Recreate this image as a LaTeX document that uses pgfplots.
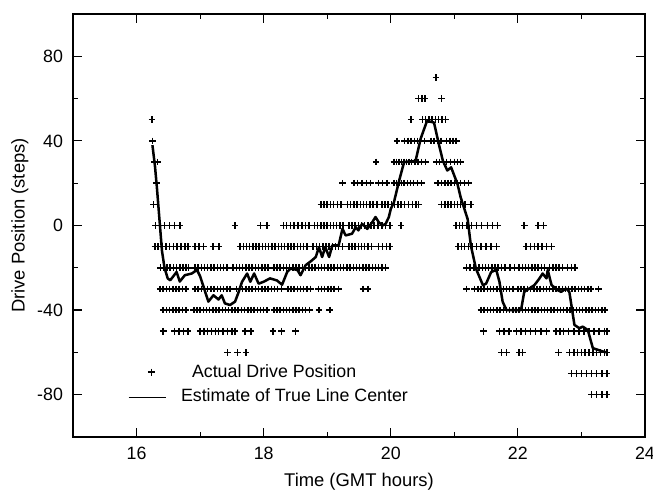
\documentclass[border=0pt]{standalone}
\usepackage{fontspec}
\setmainfont{Liberation Sans}
\usepackage{pgfplots}
\pgfplotsset{compat=1.18}
\begin{document}
\begin{tikzpicture}
\useasboundingbox (-36.5pt,-26.5pt) rectangle (290pt,218.5pt);
\begin{axis}[
  scale only axis, width=286pt, height=211.5pt,
  at={(0,0)}, anchor=south west,
  xmin=15, xmax=24, ymin=-100, ymax=100,
  xtick={16,18,20,22,24}, ytick={-80,-40,0,40,80},
  minor x tick num=1, minor y tick num=1,
  tick align=inside, major tick length=4.5pt, minor tick length=2.3pt,
  axis line style={line width=0.8pt},
  every tick/.style={line width=0.6pt, black},
  /pgf/number format/assume math mode=true,
  tick label style={font=\fontsize{8.9}{10.5}\selectfont},
  yticklabel style={xshift=-1.5pt},
  xticklabel style={yshift=-1.5pt},
  label style={font=\fontsize{9.2}{11}\selectfont},
  xlabel={Time (GMT hours)}, ylabel={Drive Position (steps)},
  xlabel style={at={(axis description cs:0.5,-0.1065)}, anchor=center},
  ylabel style={at={(axis description cs:-0.0927,0.5)}, anchor=center},
  legend style={draw=none, fill=none, at={(rel axis cs:0.085,0.192)}, anchor=north west,
    font=\fontsize{8.9}{10.5}\selectfont, row sep=0.5pt},
  legend cell align=left,
  pts/.style={only marks, mark=+, mark size=1.65pt, mark options={line width=0.75pt}, black, forget plot},
]
\addlegendimage{only marks, mark=+, mark size=1.7pt, mark options={line width=0.75pt}, black}
\addlegendentry{\hspace{11pt}Actual Drive Position}
\addlegendimage{black, line width=0.5pt, legend image code/.code={\draw[black, line width=0.5pt] (-0.1cm,0cm) -- (0.55cm,0cm);}}
\addlegendentry{\hspace{5.5pt}Estimate of True Line Center}

% row 70
\addplot[pts] coordinates {(20.71,70)};
% row 60
\addplot[pts] coordinates {(20.44,60) (20.49,60) (20.54,60) (20.80,60)};
% row 50
\addplot[pts] coordinates {(16.24,50) (20.32,50) (20.50,50) (20.55,50) (20.60,50) (20.65,50) (20.70,50) (20.75,50) (20.81,50) (20.86,50)};
% row 40
\addplot[pts] coordinates {(16.25,40) (20.10,40) (20.22,40) (20.27,40) (20.32,40) (20.37,40) (20.42,40) (20.47,40) (20.53,40) (20.63,40) (20.68,40) (20.74,40) (20.79,40) (20.88,40) (20.93,40) (20.98,40) (21.03,40)};
% row 30
\addplot[pts] coordinates {(16.28,30) (16.33,30) (19.77,30) (20.05,30) (20.09,30) (20.13,30) (20.17,30) (20.21,30) (20.25,30) (20.29,30) (20.33,30) (20.38,30) (20.43,30) (20.48,30) (20.55,30) (20.72,30) (20.77,30) (20.83,30) (20.88,30) (20.94,30) (21.00,30) (21.05,30) (21.10,30)};
% row 20
\addplot[pts] coordinates {(16.31,20) (19.24,20) (19.42,20) (19.48,20) (19.55,20) (19.62,20) (19.68,20) (19.81,20) (19.87,20) (19.94,20) (20.05,20) (20.09,20) (20.13,20) (20.17,20) (20.21,20) (20.26,20) (20.31,20) (20.36,20) (20.42,20) (20.48,20) (20.74,20) (20.80,20) (20.85,20) (20.90,20) (20.95,20) (21.00,20) (21.05,20) (21.10,20) (21.16,20) (21.22,20)};
% row 10
\addplot[pts] coordinates {(16.27,10) (18.90,10) (18.95,10) (19.00,10) (19.05,10) (19.10,10) (19.16,10) (19.22,10) (19.32,10) (19.37,10) (19.42,10) (19.47,10) (19.52,10) (19.57,10) (19.62,10) (19.67,10) (19.72,10) (19.78,10) (19.86,10) (19.91,10) (19.96,10) (20.01,10) (20.06,10) (20.11,10) (20.16,10) (20.22,10) (20.28,10) (20.34,10) (20.40,10) (20.44,10) (20.80,10) (20.85,10) (20.90,10) (20.95,10) (21.00,10) (21.05,10) (21.10,10) (21.17,10) (21.26,10)};
% row 0
\addplot[pts] coordinates {(16.30,0) (16.37,0) (16.44,0) (16.52,0) (16.60,0) (16.68,0) (17.55,0) (17.95,0) (18.05,0) (18.31,0) (18.36,0) (18.42,0) (18.48,0) (18.54,0) (18.60,0) (18.66,0) (18.71,0) (18.80,0) (18.85,0) (18.90,0) (18.95,0) (19.00,0) (19.05,0) (19.10,0) (19.15,0) (19.20,0) (19.25,0) (19.34,0) (19.39,0) (19.44,0) (19.49,0) (19.54,0) (19.59,0) (19.64,0) (19.69,0) (19.74,0) (19.80,0) (19.86,0) (19.92,0) (19.99,0) (20.16,0) (21.03,0) (21.08,0) (21.13,0) (21.20,0) (21.27,0) (21.35,0) (21.43,0) (21.52,0) (21.60,0) (21.68,0) (22.10,0) (22.32,0) (22.40,0)};
% row -10
\addplot[pts] coordinates {(16.29,-10) (16.34,-10) (16.40,-10) (16.46,-10) (16.52,-10) (16.58,-10) (16.64,-10) (16.70,-10) (16.76,-10) (16.81,-10) (16.92,-10) (16.98,-10) (17.05,-10) (17.20,-10) (17.30,-10) (17.63,-10) (17.68,-10) (17.73,-10) (17.78,-10) (17.83,-10) (17.88,-10) (17.93,-10) (17.98,-10) (18.03,-10) (18.08,-10) (18.13,-10) (18.18,-10) (18.23,-10) (18.28,-10) (18.33,-10) (18.38,-10) (18.43,-10) (18.48,-10) (18.53,-10) (18.58,-10) (18.63,-10) (18.68,-10) (18.78,-10) (18.83,-10) (18.88,-10) (18.93,-10) (18.98,-10) (19.03,-10) (19.08,-10) (19.13,-10) (19.18,-10) (19.24,-10) (19.34,-10) (19.39,-10) (19.44,-10) (19.49,-10) (19.54,-10) (19.59,-10) (19.64,-10) (19.70,-10) (19.81,-10) (19.87,-10) (19.93,-10) (19.99,-10) (21.06,-10) (21.11,-10) (21.16,-10) (21.22,-10) (21.28,-10) (21.35,-10) (21.42,-10) (21.50,-10) (21.58,-10) (21.66,-10) (22.13,-10) (22.20,-10) (22.26,-10) (22.32,-10) (22.38,-10) (22.45,-10) (22.53,-10)};
% row -20
\addplot[pts] coordinates {(16.38,-20) (16.43,-20) (16.48,-20) (16.53,-20) (16.58,-20) (16.63,-20) (16.68,-20) (16.73,-20) (16.78,-20) (16.82,-20) (16.92,-20) (16.97,-20) (17.02,-20) (17.07,-20) (17.12,-20) (17.17,-20) (17.22,-20) (17.27,-20) (17.32,-20) (17.37,-20) (17.42,-20) (17.52,-20) (17.57,-20) (17.62,-20) (17.67,-20) (17.72,-20) (17.77,-20) (17.82,-20) (17.87,-20) (17.92,-20) (17.97,-20) (18.02,-20) (18.07,-20) (18.16,-20) (18.21,-20) (18.26,-20) (18.31,-20) (18.36,-20) (18.41,-20) (18.46,-20) (18.51,-20) (18.56,-20) (18.61,-20) (18.66,-20) (18.71,-20) (18.76,-20) (18.81,-20) (18.86,-20) (18.91,-20) (18.96,-20) (19.01,-20) (19.06,-20) (19.11,-20) (19.16,-20) (19.21,-20) (19.26,-20) (19.31,-20) (19.36,-20) (19.41,-20) (19.46,-20) (19.51,-20) (19.56,-20) (19.61,-20) (19.66,-20) (19.71,-20) (19.76,-20) (19.81,-20) (19.86,-20) (19.92,-20) (21.19,-20) (21.25,-20) (21.31,-20) (21.39,-20) (21.44,-20) (21.49,-20) (21.54,-20) (21.59,-20) (21.64,-20) (21.69,-20) (21.74,-20) (21.80,-20) (21.88,-20) (21.95,-20) (22.02,-20) (22.07,-20) (22.12,-20) (22.17,-20) (22.22,-20) (22.27,-20) (22.32,-20) (22.37,-20) (22.42,-20) (22.50,-20) (22.55,-20) (22.60,-20) (22.65,-20) (22.70,-20) (22.78,-20) (22.84,-20) (22.90,-20)};
% row -30
\addplot[pts] coordinates {(16.37,-30) (16.42,-30) (16.47,-30) (16.52,-30) (16.57,-30) (16.62,-30) (16.67,-30) (16.72,-30) (16.78,-30) (16.92,-30) (16.97,-30) (17.02,-30) (17.07,-30) (17.12,-30) (17.17,-30) (17.22,-30) (17.27,-30) (17.32,-30) (17.37,-30) (17.42,-30) (17.47,-30) (17.57,-30) (17.62,-30) (17.67,-30) (17.72,-30) (17.77,-30) (17.82,-30) (17.87,-30) (17.92,-30) (17.97,-30) (18.02,-30) (18.07,-30) (18.12,-30) (18.17,-30) (18.22,-30) (18.28,-30) (18.38,-30) (18.43,-30) (18.48,-30) (18.53,-30) (18.58,-30) (18.63,-30) (18.68,-30) (18.74,-30) (18.86,-30) (18.91,-30) (18.96,-30) (19.01,-30) (19.06,-30) (19.11,-30) (19.18,-30) (19.56,-30) (19.64,-30) (21.19,-30) (21.32,-30) (21.37,-30) (21.42,-30) (21.47,-30) (21.52,-30) (21.57,-30) (21.62,-30) (21.67,-30) (21.72,-30) (21.77,-30) (21.82,-30) (21.87,-30) (21.92,-30) (22.00,-30) (22.05,-30) (22.10,-30) (22.15,-30) (22.20,-30) (22.25,-30) (22.30,-30) (22.35,-30) (22.40,-30) (22.45,-30) (22.50,-30) (22.55,-30) (22.60,-30) (22.65,-30) (22.70,-30) (22.75,-30) (22.80,-30) (22.85,-30) (22.90,-30) (22.95,-30) (23.00,-30) (23.05,-30) (23.10,-30) (23.15,-30) (23.27,-30)};
% row -40
\addplot[pts] coordinates {(16.42,-40) (16.47,-40) (16.52,-40) (16.57,-40) (16.62,-40) (16.67,-40) (16.72,-40) (16.78,-40) (16.90,-40) (16.95,-40) (17.00,-40) (17.05,-40) (17.10,-40) (17.15,-40) (17.20,-40) (17.25,-40) (17.30,-40) (17.35,-40) (17.40,-40) (17.45,-40) (17.50,-40) (17.55,-40) (17.60,-40) (17.65,-40) (17.70,-40) (17.75,-40) (17.80,-40) (17.85,-40) (17.90,-40) (17.95,-40) (18.00,-40) (18.05,-40) (18.16,-40) (18.21,-40) (18.26,-40) (18.31,-40) (18.36,-40) (18.41,-40) (18.46,-40) (18.51,-40) (18.56,-40) (18.61,-40) (18.66,-40) (18.72,-40) (18.87,-40) (19.04,-40) (21.42,-40) (21.47,-40) (21.52,-40) (21.57,-40) (21.62,-40) (21.67,-40) (21.72,-40) (21.77,-40) (21.82,-40) (21.87,-40) (21.92,-40) (21.97,-40) (22.02,-40) (22.07,-40) (22.12,-40) (22.17,-40) (22.22,-40) (22.27,-40) (22.32,-40) (22.37,-40) (22.42,-40) (22.47,-40) (22.52,-40) (22.57,-40) (22.62,-40) (22.67,-40) (22.72,-40) (22.77,-40) (22.82,-40) (22.87,-40) (22.92,-40) (22.97,-40) (23.02,-40) (23.07,-40) (23.12,-40) (23.17,-40) (23.22,-40) (23.27,-40) (23.32,-40) (23.37,-40)};
% row -50
\addplot[pts] coordinates {(16.42,-50) (16.60,-50) (16.67,-50) (16.74,-50) (16.81,-50) (17.00,-50) (17.06,-50) (17.12,-50) (17.18,-50) (17.24,-50) (17.29,-50) (17.36,-50) (17.43,-50) (17.50,-50) (17.55,-50) (17.71,-50) (17.80,-50) (18.15,-50) (18.28,-50) (18.50,-50) (21.46,-50) (21.71,-50) (21.78,-50) (21.86,-50) (21.98,-50) (22.05,-50) (22.12,-50) (22.20,-50) (22.28,-50) (22.36,-50) (22.45,-50) (22.60,-50) (22.66,-50) (22.72,-50) (22.80,-50) (22.88,-50) (22.96,-50) (23.04,-50) (23.12,-50) (23.20,-50) (23.28,-50) (23.36,-50) (23.40,-50)};
% row -60
\addplot[pts] coordinates {(17.43,-60) (17.59,-60) (17.72,-60) (21.74,-60) (21.82,-60) (22.02,-60) (22.07,-60) (22.64,-60) (22.81,-60) (22.88,-60) (22.94,-60) (23.00,-60) (23.06,-60) (23.12,-60) (23.18,-60) (23.24,-60) (23.30,-60) (23.36,-60) (23.40,-60)};
% row -70
\addplot[pts] coordinates {(22.84,-70) (22.92,-70) (23.00,-70) (23.08,-70) (23.16,-70) (23.24,-70) (23.32,-70) (23.40,-70)};
% row -80
\addplot[pts] coordinates {(23.16,-80) (23.24,-80) (23.32,-80) (23.40,-80)};

% estimate line
\addplot[black, line width=1.25pt, line join=round, forget plot] coordinates {
(16.25,38) (16.29,28) (16.32,18) (16.36,3) (16.40,-12) (16.44,-20) (16.49,-25) (16.53,-25.9) (16.63,-22) (16.68,-26.5) (16.76,-23.5) (16.87,-22.7) (16.95,-21) (17.00,-24) (17.13,-36) (17.21,-33) (17.29,-35) (17.34,-33) (17.39,-36.8) (17.47,-37.6) (17.55,-36) (17.60,-32) (17.66,-26.6) (17.74,-22.7) (17.79,-26.6) (17.85,-22.7) (17.92,-27.5) (18.00,-26.6) (18.10,-25) (18.21,-26) (18.29,-28) (18.37,-22) (18.42,-20.4) (18.53,-21) (18.58,-23.5) (18.66,-18.8) (18.76,-16.5) (18.82,-14.9) (18.87,-10.2) (18.92,-14.9) (18.97,-10.2) (19.03,-14.9) (19.08,-9.4) (19.18,-9.4) (19.24,-1.6) (19.29,-4.7) (19.39,-3.9) (19.45,-0.8) (19.49,-2.3) (19.55,0.8) (19.63,-1.6) (19.71,1.6) (19.76,4) (19.81,1.6) (19.87,0) (19.92,0.8) (19.97,4) (20.00,7.8) (20.05,11) (20.13,21) (20.21,30) (20.39,30.5) (20.47,41) (20.57,49.4) (20.68,48.7) (20.76,38) (20.82,30.6) (20.89,26) (20.95,27.5) (21.05,19.6) (21.10,13.3) (21.21,3) (21.26,-9.4) (21.34,-20.4) (21.45,-28.2) (21.50,-27.5) (21.58,-22) (21.66,-21) (21.71,-26.6) (21.76,-36) (21.82,-40) (22.05,-40) (22.10,-31.4) (22.18,-29.8) (22.26,-28.2) (22.34,-25) (22.39,-22.7) (22.45,-25) (22.47,-21) (22.53,-28.2) (22.63,-30.6) (22.68,-31.4) (22.76,-29.8) (22.81,-31.4) (22.89,-47) (22.97,-48.6) (23.02,-47.8) (23.10,-49.4) (23.18,-58) (23.26,-58.8) (23.34,-59.6) (23.40,-60)};
\end{axis}
\end{tikzpicture}
\end{document}
